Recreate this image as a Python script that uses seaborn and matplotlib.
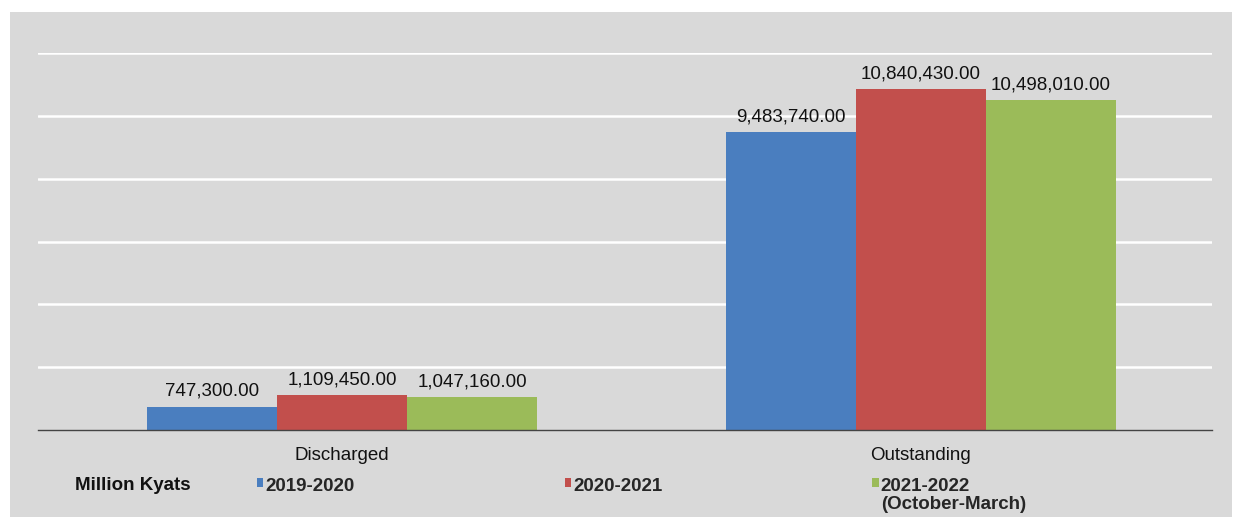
import matplotlib.pyplot as plt
import matplotlib.patches as mpatches
import seaborn as sns
import pandas as pd

categories = ["Discharged", "Outstanding"]
periods = ["2019-2020", "2020-2021", "2021-2022\n(October-March)"]
values_2019_2020 = [747300.00, 9483740.00]
values_2020_2021 = [1109450.00, 10840430.00]
values_2021_2022 = [1047160.00, 10498010.00]
colors = ["#4a7ebf", "#c24f4c", "#9bbb59"]

rows = []
for period, vals in zip(periods, [values_2019_2020, values_2020_2021, values_2021_2022]):
    for cat, v in zip(categories, vals):
        rows.append({"category": cat, "period": period, "value": v})
data = pd.DataFrame(rows)

sns.set_style("white")
plt.rcParams["font.family"] = ["Liberation Sans", "DejaVu Sans"]

fig = plt.figure(figsize=(12.42, 5.17), dpi=100, facecolor="white")
# grey chart panel behind everything
fig.patches.append(mpatches.Rectangle((10 / 1242, 0), 1222 / 1242, 505 / 517,
                                      transform=fig.transFigure, facecolor="#d9d9d9",
                                      edgecolor="none", zorder=-10))
ax = fig.add_axes([38 / 1242, 87 / 517, 1174 / 1242, 377 / 517])
ax.set_facecolor("none")

sns.barplot(data, x="category", y="value", hue="period", hue_order=periods,
            palette=colors, width=0.674, gap=0, saturation=1, linewidth=0, ax=ax)

for container in ax.containers:
    ax.bar_label(container, labels=[f"{v:,.2f}" for v in container.datavalues],
                 padding=5, fontsize=13.5, color="#111111")

ax.set_ylim(0, 12e6)
ax.set_xlim(-0.525, 1.503)
ax.set_yticks([2e6, 4e6, 6e6, 8e6, 10e6, 12e6])
ax.set_yticklabels([])
ax.tick_params(axis="y", length=0)
ax.grid(axis="y", color="white", linewidth=1.8)
ax.set_axisbelow(True)
for side in ["top", "right", "left"]:
    ax.spines[side].set_visible(False)
ax.spines["bottom"].set_color("#444444")
ax.spines["bottom"].set_linewidth(1.0)
ax.tick_params(axis="x", length=0, labelsize=13.5, pad=12, labelcolor="#111111")
ax.set_xticks([-0.5, 0.5, 1.5], minor=True)
ax.tick_params(axis="x", which="minor", length=5, color="#888888")
ax.set_xlabel("")
ax.set_ylabel("")

handles, labels = ax.get_legend_handles_labels()
ax.get_legend().remove()
leg = fig.legend(handles, labels, ncol=3, loc="upper left",
                 bbox_to_anchor=(240 / 1242, 56 / 517), frameon=False,
                 handlelength=0.35, handleheight=0.35, handletextpad=0.1,
                 columnspacing=11.2, prop={"weight": "bold", "size": 13.5})
# put the marker next to the first line of each label, top-align the columns
leg._legend_handle_box.align = "top"
for col in leg._legend_handle_box.get_children():
    for entry in col.get_children():
        entry.align = "top"
for t in leg.get_texts():
    t.set_linespacing(1.05)
fig.text(75 / 1242, 32 / 517, "Million Kyats", fontsize=13.5, fontweight="bold",
         va="center", ha="left", color="#111111")

fig.savefig("out.png", dpi=100, facecolor="white")
